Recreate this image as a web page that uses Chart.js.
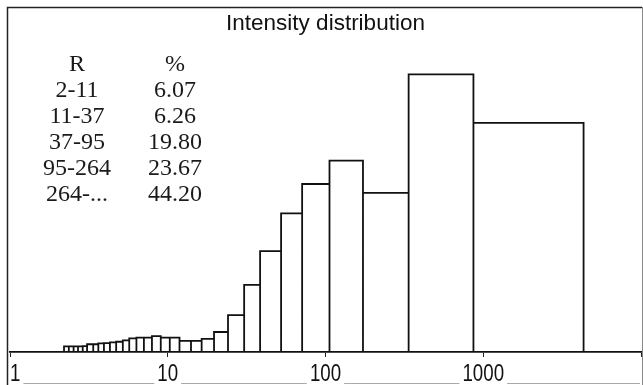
<!DOCTYPE html>
<html>
<head>
<meta charset="utf-8">
<script src="https://cdn.jsdelivr.net/npm/chart.js@4"></script>
<style>
  body { margin: 0; background: #fff; }
  canvas { display: block; }
</style>
</head>
<body>
<canvas id="histChart" width="643" height="385"></canvas>
<script>
let ctx = document.querySelector("#histChart");

// bin edges (intensity, log axis) and bar heights (relative, tallest = 100)
const BIN_EDGES = [
  2.2, 2.36, 2.53, 2.7, 2.89, 3.08, 3.37, 3.63, 3.94, 4.3, 4.71, 5.19, 5.7,
  6.33, 7.06, 7.94, 9.03, 10.3, 11.87, 14.04, 16.4, 19.65, 24.1, 30.5, 38.5,
  52.3, 71.1, 106, 172.8, 336.5, 866.6, 4325,
];
const BIN_HEIGHTS = [
  2.05, 2.05, 2.05, 2.05, 2.1, 2.8, 2.8, 3.1, 3.2, 3.5, 3.7, 4.2, 4.9, 5.2,
  5.2, 5.7, 5.2, 5.2, 4.0, 4.0, 4.7, 7.2, 13.3, 24.2, 36.3, 49.9, 60.5, 68.9,
  57.3, 100, 82.5,
];

const TICK_VALUES = [1, 10, 100, 1000, 10000];
const TICK_LABELS = ["1", "10", "100", "1000", ""];

const TABLE_HEADER = ["R", "%"];
const RANGE_LABELS = ["2-11", "11-37", "37-95", "95-264", "264-..."];
const PCT_LABELS = ["6.07", "6.26", "19.80", "23.67", "44.20"];

// tick labels in the original are a tall narrow sans; squeeze Liberation Sans
const TICK_FONT = "24px 'Liberation Sans', Arial, sans-serif";
const TICK_SQUEEZE = 0.78;

// outline of every bar: up the left edge, across the top, down the right edge
function histogramOutline(edges, heights) {
  let pts = [];
  heights.forEach((h, i) => {
    pts.push({ x: edges[i], y: 0 });
    pts.push({ x: edges[i], y: h });
    pts.push({ x: edges[i + 1], y: h });
    pts.push({ x: edges[i + 1], y: 0 });
  });
  return pts;
}

const frameAndTable = {
  id: "frameAndTable",
  afterDraw(chart) {
    const c = chart.ctx;
    const xs = chart.scales.x;
    c.save();
    // figure frame
    c.strokeStyle = "#222";
    c.lineWidth = 1.5;
    c.beginPath();
    c.moveTo(7.5, 385);
    c.lineTo(7.5, 7.5);
    c.lineTo(642, 7.5);
    c.stroke();
    c.strokeStyle = "#888";
    c.lineWidth = 1;
    c.beginPath();
    c.moveTo(642.5, 7);
    c.lineTo(642.5, 385);
    c.stroke();

    // R / % table
    c.fillStyle = "#1a1a1a";
    c.font = "24px 'Liberation Serif', 'Times New Roman', serif";
    c.textAlign = "center";
    c.textBaseline = "middle";
    c.fillText(TABLE_HEADER[0], 77, 65);
    c.fillText(TABLE_HEADER[1], 175, 65);
    RANGE_LABELS.forEach((lbl, i) => {
      c.fillText(lbl, 77, 91 + i * 26);
      c.fillText(PCT_LABELS[i], 175, 91 + i * 26);
    });

    // x tick labels, kept inside the frame on the left
    c.font = TICK_FONT;
    c.textAlign = "left";
    c.textBaseline = "alphabetic";
    c.fillStyle = "#111";
    let spans = TICK_VALUES.map((v, i) => {
      let w = c.measureText(TICK_LABELS[i]).width * TICK_SQUEEZE;
      let left = Math.max(xs.getPixelForValue(v) - w / 2, xs.left);
      c.save();
      c.translate(left, 381);
      c.scale(TICK_SQUEEZE, 1);
      c.fillText(TICK_LABELS[i], 0, 0);
      c.restore();
      return [left, left + w];
    });

    // light rule under the tick labels, broken around each label
    c.strokeStyle = "#aaa";
    c.lineWidth = 1;
    for (let i = 0; i < spans.length - 1; i++) {
      let a = spans[i][1] + 3;
      let b = i === spans.length - 2 ? 640 : spans[i + 1][0] - 3;
      c.beginPath();
      c.moveTo(a, 383.5);
      c.lineTo(b, 383.5);
      c.stroke();
    }
    c.restore();
  },
};

new Chart(ctx, {
  type: "line",
  data: {
    datasets: [
      {
        label: "Intensity",
        data: histogramOutline(BIN_EDGES, BIN_HEIGHTS),
        borderColor: "#111",
        borderWidth: 1.8,
        borderJoinStyle: "miter",
        pointRadius: 0,
        tension: 0,
        fill: false,
      },
    ],
  },
  options: {
    responsive: false,
    animation: false,
    layout: { padding: { left: 10, right: 2, top: 8, bottom: 28 } },
    plugins: {
      legend: { display: false },
      tooltip: { enabled: false },
      title: {
        display: true,
        text: "Intensity distribution",
        color: "#111",
        font: { family: "'Liberation Sans', Arial", size: 22.5, weight: "normal" },
        padding: { top: 2, bottom: 4 },
      },
    },
    scales: {
      x: {
        type: "logarithmic",
        min: 1,
        max: 10000,
        afterBuildTicks: (scale) => {
          scale.ticks = TICK_VALUES.map((v) => ({ value: v }));
        },
        ticks: { display: false },
        grid: {
          drawOnChartArea: false,
          drawTicks: true,
          tickLength: 5,
          color: "#222",
        },
        border: { display: true, color: "#111", width: 1.8 },
      },
      y: {
        display: false,
        min: 0,
        max: 112,
      },
    },
  },
  plugins: [frameAndTable],
});
</script>
</body>
</html>
